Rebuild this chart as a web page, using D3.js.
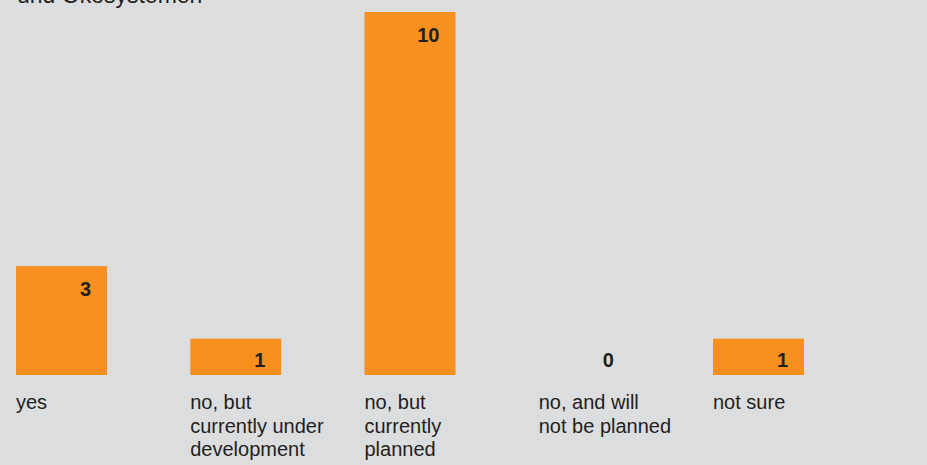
<!DOCTYPE html>
<html>
<head>
<meta charset="utf-8">
<script src="https://cdn.jsdelivr.net/npm/d3@7"></script>
<style>
  html, body { margin: 0; padding: 0; background: #dcdddf; }
  svg { display: block; }
  text { font-family: "Liberation Sans", Arial, Helvetica, sans-serif; }
</style>
</head>
<body>
<svg id="chart" width="927" height="465"></svg>
<script>
// Survey answers and their counts
const categories = ["yes", "no, but currently under development", "no, but currently planned", "no, and will not be planned", "not sure"];
const categoryLines = [
  ["yes"],
  ["no, but", "currently under", "development"],
  ["no, but", "currently", "planned"],
  ["no, and will", "not be planned"],
  ["not sure"]
];
const counts = [3, 1, 10, 0, 1];
const titleLines = ["und Ökosystemen"];

const W = 927, H = 465;
const svg = d3.select("#chart");

const bg = "#dcdddf", barColor = "#f7901e", ink = "#231f20";
svg.append("rect").attr("width", W).attr("height", H).attr("fill", bg);

// Horizontal band scale: 91px bars, one every 174.25px
const step = 174.25, barW = 91;
const x = d3.scaleBand()
  .domain(categories)
  .range([16, 16 + step * (categories.length - 1) + barW])
  .paddingInner(1 - barW / step)
  .paddingOuter(0);

const baseY = 375;
const y = d3.scaleLinear().domain([0, 10]).range([baseY, 12]);

// Title (only its last line falls inside the frame)
svg.append("g").selectAll("text")
  .data(titleLines)
  .join("text")
  .attr("x", 17)
  .attr("y", (d, i) => 3 - (titleLines.length - 1 - i) * 27)
  .attr("font-size", 23)
  .attr("fill", ink)
  .text(d => d);

const data = categories.map((c, i) => ({ cat: c, value: counts[i], lines: categoryLines[i] }));

// Bars
svg.append("g").selectAll("rect")
  .data(data)
  .join("rect")
  .attr("x", d => x(d.cat))
  .attr("y", d => y(d.value))
  .attr("width", x.bandwidth())
  .attr("height", d => baseY - y(d.value))
  .attr("fill", barColor);

// Value labels, right-aligned inside each bar's top
svg.append("g").selectAll("text")
  .data(data)
  .join("text")
  .attr("x", d => x(d.cat) + x.bandwidth() - 16)
  .attr("y", d => Math.min(y(d.value) + 30, baseY - 8))
  .attr("text-anchor", "end")
  .attr("font-size", 20)
  .attr("font-weight", "bold")
  .attr("fill", ink)
  .text(d => d.value);

// Category labels beneath the baseline
const labels = svg.append("g").selectAll("text")
  .data(data)
  .join("text")
  .attr("x", d => x(d.cat))
  .attr("y", 409)
  .attr("font-size", 20)
  .attr("fill", ink);

labels.selectAll("tspan")
  .data(d => d.lines.map(l => ({ l, x: x(d.cat) })))
  .join("tspan")
  .attr("x", d => d.x)
  .attr("dy", (d, i) => i === 0 ? 0 : 23.5)
  .text(d => d.l);
</script>
</body>
</html>
